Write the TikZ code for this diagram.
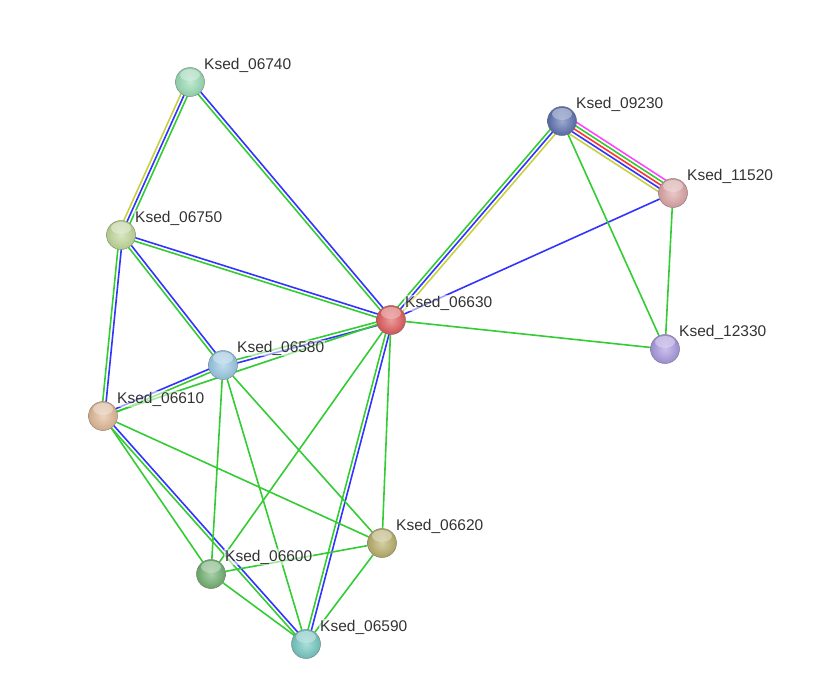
\documentclass[tikz,border=0pt]{standalone}
\usepackage{fontspec}
\setmainfont{Liberation Sans}
\usetikzlibrary{calc,backgrounds}
\definecolor{eg}{HTML}{33CC33}
\definecolor{eb}{HTML}{3333FF}
\definecolor{ey}{HTML}{C8D040}
\definecolor{er}{HTML}{FF3333}
\definecolor{em}{HTML}{FF44FF}
\definecolor{lbl}{HTML}{333333}
\definecolor{c06740}{HTML}{98DCB4}
\definecolor{c09230}{HTML}{5C70B0}
\definecolor{c11520}{HTML}{DCA4A4}
\definecolor{c06750}{HTML}{C0D898}
\definecolor{c06630}{HTML}{E05A5A}
\definecolor{c12330}{HTML}{A898E0}
\definecolor{c06580}{HTML}{98C8E4}
\definecolor{c06610}{HTML}{E0B894}
\definecolor{c06620}{HTML}{B8AE68}
\definecolor{c06600}{HTML}{70B070}
\definecolor{c06590}{HTML}{74C8C2}
\tikzset{
  prot/.style={circle, minimum size=29pt, inner sep=0pt,
    shading=radial, inner color=#1!60!white, outer color=#1!92!black,
    draw=#1!45!black!70!white, line width=0.5pt,
    path picture={\shade[top color=white, bottom color=#1!70!white, opacity=0.45]
      ([yshift=-7.5pt]path picture bounding box.north) ellipse (10pt and 6pt);}},
  plabel/.style={anchor=base west, text=lbl, font=\fontsize{15.5}{18}\selectfont, inner sep=1pt, fill=white, fill opacity=0.55, text opacity=1},
  eline/.style={line width=1.6pt, #1},
}
\newcommand\edgeline[4]{\draw[eline=#4] ($(#1)!#3!90:(#2)$) -- ($(#2)!#3!-90:(#1)$);}
\begin{document}
\begin{tikzpicture}[x=1pt,y=-1pt]
\useasboundingbox (0,0) rectangle (838,681);
\node[prot=c06740] (n06740) at (190,82) {};
\node[prot=c09230] (n09230) at (562,121) {};
\node[prot=c11520] (n11520) at (673,193) {};
\node[prot=c06750] (n06750) at (121,235) {};
\node[prot=c06630] (n06630) at (391,320) {};
\node[prot=c12330] (n12330) at (665,349) {};
\node[prot=c06580] (n06580) at (223,365) {};
\node[prot=c06610] (n06610) at (103,416) {};
\node[prot=c06620] (n06620) at (382,543) {};
\node[prot=c06600] (n06600) at (211,574) {};
\node[prot=c06590] (n06590) at (306,644) {};

\begin{scope}[on background layer]
% multi-channel edges
\edgeline{n06750}{n06740}{3.4pt}{ey}
\edgeline{n06750}{n06740}{0pt}{eb}
\edgeline{n06750}{n06740}{-3.4pt}{eg}
\edgeline{n06740}{n06630}{1.7pt}{eb}
\edgeline{n06740}{n06630}{-1.7pt}{eg}
\edgeline{n06750}{n06630}{1.7pt}{eb}
\edgeline{n06750}{n06630}{-1.7pt}{eg}
\edgeline{n06750}{n06580}{1.7pt}{eb}
\edgeline{n06750}{n06580}{-1.7pt}{eg}
\edgeline{n06750}{n06610}{1.7pt}{eb}
\edgeline{n06750}{n06610}{-1.7pt}{eg}
\edgeline{n06630}{n09230}{3.4pt}{eg}
\edgeline{n06630}{n09230}{0pt}{eb}
\edgeline{n06630}{n09230}{-3.4pt}{ey}
\edgeline{n09230}{n11520}{6.8pt}{em}
\edgeline{n09230}{n11520}{3.4pt}{eg}
\edgeline{n09230}{n11520}{0pt}{er}
\edgeline{n09230}{n11520}{-3.4pt}{eb}
\edgeline{n09230}{n11520}{-6.8pt}{ey}
\edgeline{n06580}{n06630}{1.7pt}{eg}
\edgeline{n06580}{n06630}{-1.7pt}{eb}
\edgeline{n06610}{n06580}{1.7pt}{eb}
\edgeline{n06610}{n06580}{-1.7pt}{eg}
\edgeline{n06630}{n06590}{1.7pt}{eb}
\edgeline{n06630}{n06590}{-1.7pt}{eg}
\edgeline{n06610}{n06590}{1.7pt}{eb}
\edgeline{n06610}{n06590}{-1.7pt}{eg}
% single edges
\draw[eline=eb] (n06630) -- (n11520);
\draw[eline=eg] (n06630) -- (n12330);
\draw[eline=eg] (n09230) -- (n12330);
\draw[eline=eg] (n11520) -- (n12330);
\draw[eline=eg] (n06610) -- (n06630);
\draw[eline=eg] (n06580) -- (n06600);
\draw[eline=eg] (n06580) -- (n06590);
\draw[eline=eg] (n06580) -- (n06620);
\draw[eline=eg] (n06630) -- (n06600);
\draw[eline=eg] (n06630) -- (n06620);
\draw[eline=eg] (n06610) -- (n06620);
\draw[eline=eg] (n06610) -- (n06600);
\draw[eline=eg] (n06600) -- (n06620);
\draw[eline=eg] (n06600) -- (n06590);
\draw[eline=eg] (n06620) -- (n06590);
\end{scope}

\node[plabel] (l06740) at (203,69) {Ksed\_06740};
\node[plabel] (l09230) at (575,108) {Ksed\_09230};
\node[plabel] (l11520) at (686,180) {Ksed\_11520};
\node[plabel] (l06750) at (134,222) {Ksed\_06750};
\node[plabel] (l06630) at (404,307) {Ksed\_06630};
\node[plabel] (l12330) at (678,336) {Ksed\_12330};
\node[plabel] (l06580) at (236,352) {Ksed\_06580};
\node[plabel] (l06610) at (116,403) {Ksed\_06610};
\node[plabel] (l06620) at (395,530) {Ksed\_06620};
\node[plabel] (l06600) at (224,561) {Ksed\_06600};
\node[plabel] (l06590) at (319,631) {Ksed\_06590};
\end{tikzpicture}
\end{document}
